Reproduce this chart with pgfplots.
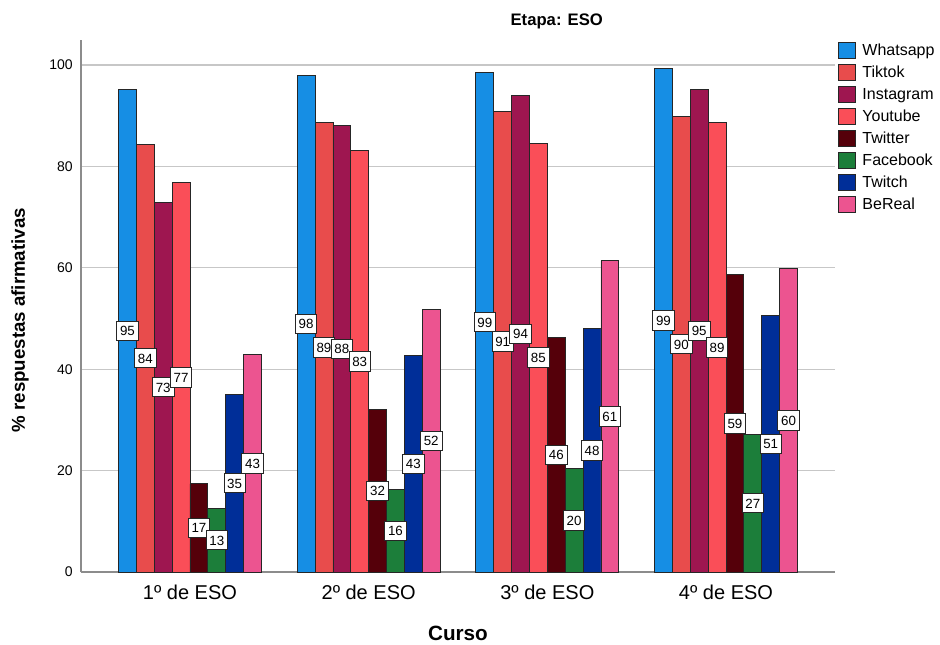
\documentclass[border=0pt]{standalone}
\usepackage{pgfplots}
\pgfplotsset{compat=1.18}
\usepackage{pgfplotstable}
\usepackage{fontspec}
\setmainfont{Liberation Sans}

\definecolor{cwa}{RGB}{22,142,228}
\definecolor{ctt}{RGB}{232,76,76}
\definecolor{cig}{RGB}{158,22,80}
\definecolor{cyt}{RGB}{250,78,88}
\definecolor{ctw}{RGB}{85,0,10}
\definecolor{cfb}{RGB}{28,126,58}
\definecolor{ctc}{RGB}{0,46,152}
\definecolor{cbr}{RGB}{236,84,144}

\pgfplotstableread{
g wa tt ig yt tw fb tc br
0 95.1 84.4 72.9 76.8 17.4 12.6 35.1 42.9
1 97.9 88.6 88.0 83.1 32.1 16.3 42.7 51.8
2 98.6 90.9 94.0 84.6 46.3 20.4 48.0 61.4
3 99.3 89.9 95.2 88.6 58.6 27.2 50.6 59.8
}\datatable

\pgfplotsset{
  barstyle/.style={ybar, bar width=0.1, bar shift=0pt, fill=#1, draw=black!85, line width=0.6pt},
  lblstyle/.style={draw=none, forget plot, point meta=\thisrow{#1},
    nodes near coords={\pgfmathprintnumber[fixed,precision=0]{\pgfplotspointmeta}},
    every node near coord/.append style={anchor=center, fill=white, draw=black!85, line width=0.6pt,
      font=\fontsize{10}{10}\selectfont, inner xsep=2.5pt, inner ysep=3.5pt, text height=7.5pt, text depth=0pt}},
}

\begin{document}
\begin{tikzpicture}
\path[use as bounding box] (-60.75pt,-54pt) rectangle (644.25pt,429pt);
\begin{axis}[
  at={(0,0)}, anchor=south west,
  scale only axis, width=565.5pt, height=399.3pt,
  xmin=-0.61, xmax=3.61, ymin=0, ymax=105,
  axis lines*=left,
  axis line style={black!45, line width=0.9pt},
  major tick length=0pt,
  xtick={0,1,2,3},
  xticklabels={1º de ESO,2º de ESO,3º de ESO,4º de ESO},
  ytick={0,20,40,60,80,100},
  ymajorgrids, grid style={black!22, line width=0.9pt},
  /pgf/number format/assume math mode=true,
  xticklabel style={font=\fontsize{15}{15}\selectfont, anchor=center, yshift=-15.4pt},
  yticklabel style={font=\fontsize{10.5}{10.5}\selectfont, anchor=east, inner sep=0pt, xshift=-6pt},
  xlabel={Curso},
  ylabel={\% respuestas afirmativas},
  every axis x label/.style={at={(rel axis cs:0.5,0)}, yshift=-45.75pt, anchor=center, font=\fontsize{15.5}{15.5}\selectfont\bfseries},
  every axis y label/.style={at={(rel axis cs:0,0.473)}, xshift=-45.75pt, rotate=90, anchor=center, font=\fontsize{14}{14}\selectfont\bfseries},
  title={Etapa: ESO},
  every axis title/.style={at={(rel axis cs:0.631,1)}, yshift=14pt, anchor=center, font=\fontsize{12.5}{12.5}\selectfont\bfseries},
  legend image code/.code={\draw[#1, draw=black!85, line width=0.6pt] (0pt,-4.8pt) rectangle (12.75pt,7.2pt);},
  legend cell align=left,
  legend style={at={(rel axis cs:1.004,0.9955)}, anchor=north west, draw=none, fill=none,
    inner sep=0pt, outer sep=0pt, row sep=3pt,
    font=\fontsize{12}{12}\selectfont,
    nodes={inner sep=0pt, text height=9pt, text depth=3pt},
    /tikz/every odd column/.append style={column sep=5pt}},
]
\addplot[barstyle=cwa] table[x expr=\thisrow{g}-0.35, y=wa] {\datatable};
\addlegendentry{Whatsapp}
\addplot[barstyle=ctt] table[x expr=\thisrow{g}-0.25, y=tt] {\datatable};
\addlegendentry{Tiktok}
\addplot[barstyle=cig] table[x expr=\thisrow{g}-0.15, y=ig] {\datatable};
\addlegendentry{Instagram}
\addplot[barstyle=cyt] table[x expr=\thisrow{g}-0.05, y=yt] {\datatable};
\addlegendentry{Youtube}
\addplot[barstyle=ctw] table[x expr=\thisrow{g}+0.05, y=tw] {\datatable};
\addlegendentry{Twitter}
\addplot[barstyle=cfb] table[x expr=\thisrow{g}+0.15, y=fb] {\datatable};
\addlegendentry{Facebook}
\addplot[barstyle=ctc] table[x expr=\thisrow{g}+0.25, y=tc] {\datatable};
\addlegendentry{Twitch}
\addplot[barstyle=cbr] table[x expr=\thisrow{g}+0.35, y=br] {\datatable};
\addlegendentry{BeReal}

\addplot[lblstyle=wa] table[x expr=\thisrow{g}-0.35, y expr=\thisrow{wa}/2] {\datatable};
\addplot[lblstyle=tt] table[x expr=\thisrow{g}-0.25, y expr=\thisrow{tt}/2] {\datatable};
\addplot[lblstyle=ig] table[x expr=\thisrow{g}-0.15, y expr=\thisrow{ig}/2] {\datatable};
\addplot[lblstyle=yt] table[x expr=\thisrow{g}-0.05, y expr=\thisrow{yt}/2] {\datatable};
\addplot[lblstyle=tw] table[x expr=\thisrow{g}+0.05, y expr=\thisrow{tw}/2] {\datatable};
\addplot[lblstyle=fb] table[x expr=\thisrow{g}+0.15, y expr=\thisrow{fb}/2] {\datatable};
\addplot[lblstyle=tc] table[x expr=\thisrow{g}+0.25, y expr=\thisrow{tc}/2] {\datatable};
\addplot[lblstyle=br] table[x expr=\thisrow{g}+0.35, y expr=\thisrow{br}/2] {\datatable};
\end{axis}
\end{tikzpicture}
\end{document}
